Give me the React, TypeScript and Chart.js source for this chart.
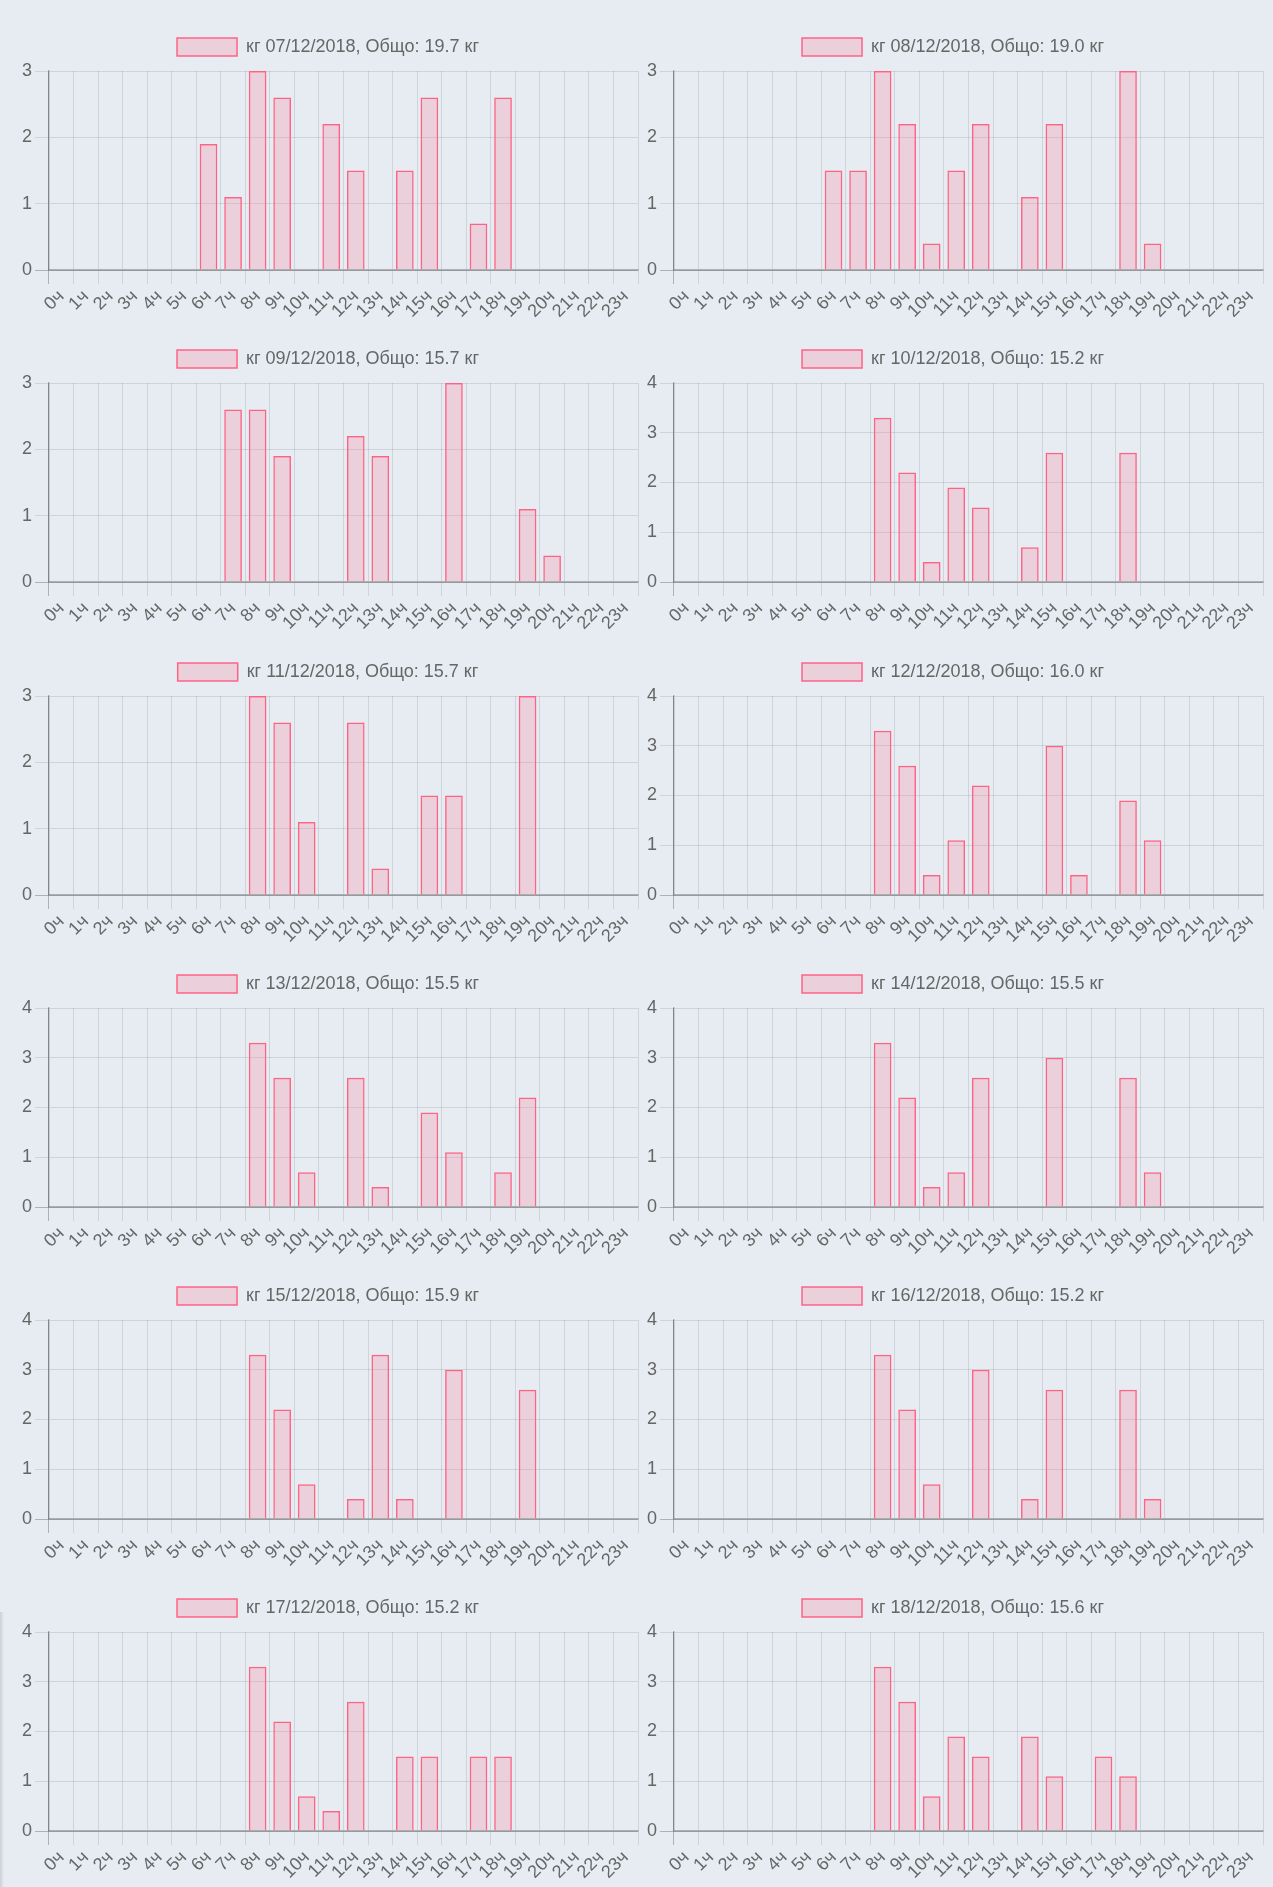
import { useEffect, useRef } from 'react';
import { Chart, registerables } from 'chart.js';

Chart.register(...registerables);

// hour labels on the x axis
const hours = [
  '0ч', '1ч', '2ч', '3ч', '4ч', '5ч', '6ч', '7ч', '8ч', '9ч', '10ч', '11ч',
  '12ч', '13ч', '14ч', '15ч', '16ч', '17ч', '18ч', '19ч', '20ч', '21ч', '22ч', '23ч',
];

const dates = [
  '07/12/2018', '08/12/2018', '09/12/2018', '10/12/2018', '11/12/2018', '12/12/2018',
  '13/12/2018', '14/12/2018', '15/12/2018', '16/12/2018', '17/12/2018', '18/12/2018',
];
const totals = ['19.7', '19.0', '15.7', '15.2', '15.7', '16.0', '15.5', '15.5', '15.9', '15.2', '15.2', '15.6'];

// kg per hour, one array per day
const kg0712 = [0, 0, 0, 0, 0, 0, 1.9, 1.1, 3.0, 2.6, 0, 2.2, 1.5, 0, 1.5, 2.6, 0, 0.7, 2.6, 0, 0, 0, 0, 0];
const kg0812 = [0, 0, 0, 0, 0, 0, 1.5, 1.5, 3.0, 2.2, 0.4, 1.5, 2.2, 0, 1.1, 2.2, 0, 0, 3.0, 0.4, 0, 0, 0, 0];
const kg0912 = [0, 0, 0, 0, 0, 0, 0, 2.6, 2.6, 1.9, 0, 0, 2.2, 1.9, 0, 0, 3.0, 0, 0, 1.1, 0.4, 0, 0, 0];
const kg1012 = [0, 0, 0, 0, 0, 0, 0, 0, 3.3, 2.2, 0.4, 1.9, 1.5, 0, 0.7, 2.6, 0, 0, 2.6, 0, 0, 0, 0, 0];
const kg1112 = [0, 0, 0, 0, 0, 0, 0, 0, 3.0, 2.6, 1.1, 0, 2.6, 0.4, 0, 1.5, 1.5, 0, 0, 3.0, 0, 0, 0, 0];
const kg1212 = [0, 0, 0, 0, 0, 0, 0, 0, 3.3, 2.6, 0.4, 1.1, 2.2, 0, 0, 3.0, 0.4, 0, 1.9, 1.1, 0, 0, 0, 0];
const kg1312 = [0, 0, 0, 0, 0, 0, 0, 0, 3.3, 2.6, 0.7, 0, 2.6, 0.4, 0, 1.9, 1.1, 0, 0.7, 2.2, 0, 0, 0, 0];
const kg1412 = [0, 0, 0, 0, 0, 0, 0, 0, 3.3, 2.2, 0.4, 0.7, 2.6, 0, 0, 3.0, 0, 0, 2.6, 0.7, 0, 0, 0, 0];
const kg1512 = [0, 0, 0, 0, 0, 0, 0, 0, 3.3, 2.2, 0.7, 0, 0.4, 3.3, 0.4, 0, 3.0, 0, 0, 2.6, 0, 0, 0, 0];
const kg1612 = [0, 0, 0, 0, 0, 0, 0, 0, 3.3, 2.2, 0.7, 0, 3.0, 0, 0.4, 2.6, 0, 0, 2.6, 0.4, 0, 0, 0, 0];
const kg1712 = [0, 0, 0, 0, 0, 0, 0, 0, 3.3, 2.2, 0.7, 0.4, 2.6, 0, 1.5, 1.5, 0, 1.5, 1.5, 0, 0, 0, 0, 0];
const kg1812 = [0, 0, 0, 0, 0, 0, 0, 0, 3.3, 2.6, 0.7, 1.9, 1.5, 0, 1.9, 1.1, 0, 1.5, 1.1, 0, 0, 0, 0, 0];

const days = [kg0712, kg0812, kg0912, kg1012, kg1112, kg1212, kg1312, kg1412, kg1512, kg1612, kg1712, kg1812];

const FONT = "Arial, 'Liberation Sans', sans-serif";
const TEXT = '#666';
const GRID = 'rgba(0,0,0,0.1)';
const AXIS = 'rgba(0,0,0,0.25)';

// legend sits a bit higher above the plot than chart.js 4 gives by default
const legendGap = {
  id: 'legendGap',
  beforeLayout(chart: any) {
    const lg = chart.legend;
    if (lg && !lg._gapPatched) {
      const fit = lg.fit;
      lg.fit = function () {
        fit.call(this);
        this.height += 5;
      };
      lg._gapPatched = true;
    }
  },
};

function DayChart({ date, total, values }: { date: string; total: string; values: number[] }) {
  const canvasRef = useRef<HTMLCanvasElement | null>(null);

  useEffect(() => {
    if (!canvasRef.current) return;
    const chart = new Chart(canvasRef.current, {
      type: 'bar',
      data: {
        labels: hours,
        datasets: [
          {
            label: `кг ${date}, Общо: ${total} кг`,
            data: values.map((v) => (v === 0 ? null : v)),
            backgroundColor: 'rgba(255, 99, 132, 0.2)',
            borderColor: 'rgb(255, 99, 132)',
            borderWidth: 1.5,
          },
        ],
      },
      options: {
        animation: false,
        responsive: false,
        layout: { padding: 0 },
        plugins: {
          legend: {
            labels: {
              boxWidth: 60,
              boxHeight: 18,
              padding: 15,
              color: TEXT,
              font: { family: FONT, size: 18 },
            },
          },
          tooltip: { enabled: false },
        },
        scales: {
          x: {
            offset: true,
            grid: {
              offset: true,
              lineWidth: 1,
              tickLength: 14,
              color: (c: any) => (c.index === 0 ? AXIS : c.index >= 24 ? 'rgba(0,0,0,0)' : GRID),
            },
            border: { color: AXIS, width: 1.5 },
            ticks: {
              autoSkip: false,
              minRotation: 45,
              maxRotation: 45,
              padding: 2,
              color: TEXT,
              font: { family: FONT, size: 18 },
            },
            afterFit: (s: any) => {
              s.height = 53;
              s.paddingLeft = 0;
              s.paddingRight = 10;
            },
          },
          y: {
            beginAtZero: true,
            grid: {
              lineWidth: 1,
              tickLength: 14,
              color: (c: any) => (c.index === 0 ? AXIS : GRID),
            },
            border: { color: AXIS, width: 1.5 },
            ticks: {
              stepSize: 1,
              padding: 3,
              color: TEXT,
              font: { family: FONT, size: 18 },
            },
            afterFit: (s: any) => {
              s.width = 41;
            },
          },
        },
      },
      plugins: [legendGap],
    } as any);
    return () => chart.destroy();
  }, [date, total, values]);

  return <canvas ref={canvasRef} width={640} height={300} />;
}

export default function App() {
  return (
    <div
      style={{
        position: 'absolute',
        left: 0,
        top: 0,
        width: 1273,
        height: 1887,
        background: '#e6ecf2',
        overflow: 'hidden',
      }}
    >
      {days.map((values, i) => {
        const row = Math.floor(i / 2);
        const col = i % 2;
        return (
          <div
            key={dates[i]}
            style={{
              position: 'absolute',
              left: col === 0 ? 8 : 633,
              top: Math.round(23 + row * 312.25),
              width: 640,
              height: 300,
            }}
          >
            <DayChart date={dates[i]} total={totals[i]} values={values} />
          </div>
        );
      })}
      <div
        style={{
          position: 'absolute',
          left: 0,
          top: 1612,
          width: 4,
          height: 275,
          background: 'linear-gradient(to right, rgba(0,0,0,0.12), rgba(0,0,0,0))',
        }}
      />
    </div>
  );
}
